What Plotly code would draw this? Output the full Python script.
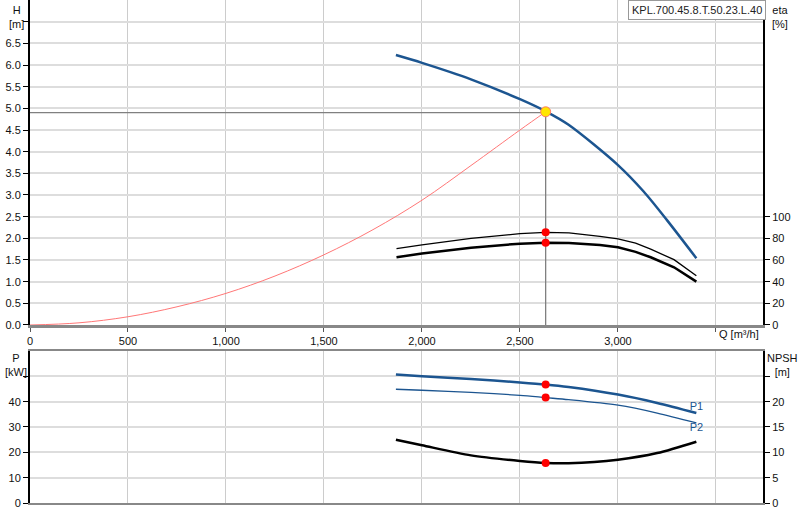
import plotly.graph_objects as go

# ---- data ----
q_pump = [1867, 2000, 2250, 2500, 2631, 2748, 3000, 3131, 3250, 3400]
h_pump = [6.23, 6.05, 5.67, 5.21, 4.93, 4.62, 3.69, 3.08, 2.42, 1.54]

q_eta = [1870, 2000, 2250, 2500, 2631, 2750, 2908, 3000, 3090, 3167, 3286, 3400]
eta_upper = [70.5, 74.0, 80.0, 84.3, 85.5, 85.0, 81.8, 79.5, 75.5, 70.0, 60.3, 45.5]
eta_lower = [62.5, 66.0, 71.4, 75.1, 76.0, 75.6, 73.8, 71.7, 67.5, 62.5, 53.3, 40.0]

q_sys = [0, 250, 500, 750, 1000, 1250, 1500, 1750, 2000, 2250, 2500, 2631]
h_sys = [0, 0.05, 0.19, 0.42, 0.73, 1.13, 1.62, 2.20, 2.88, 3.68, 4.50, 4.92]

q_pow = [1867, 2000, 2250, 2500, 2631, 2748, 3000, 3200, 3400]
p1 = [50.7, 50.0, 48.9, 47.6, 46.8, 45.8, 42.8, 39.5, 35.5]
p2 = [44.9, 44.5, 43.7, 42.5, 41.6, 40.8, 38.6, 35.5, 31.6]
npsh = [12.5, 11.4, 9.4, 8.3, 7.9, 7.85, 8.55, 9.85, 12.1]

duty_q = 2631
duty_h = 4.92
duty_hline = 4.9
duty_eta_upper = 85.5
duty_eta_lower = 76.0
duty_p1 = 46.8
duty_p2 = 41.6
duty_npsh = 7.9

x_ticks = [0, 500, 1000, 1500, 2000, 2500, 3000, 3500]
x_labels = ["0", "500", "1,000", "1,500", "2,000", "2,500", "3,000", ""]
h_ticks = [0, 0.5, 1, 1.5, 2, 2.5, 3, 3.5, 4, 4.5, 5, 5.5, 6, 6.5, 7]
h_labels = ["0.0", "0.5", "1.0", "1.5", "2.0", "2.5", "3.0", "3.5", "4.0", "4.5",
            "5.0", "5.5", "6.0", "6.5", ""]
eta_ticks = [0, 20, 40, 60, 80, 100]
p_ticks = [0, 10, 20, 30, 40, 50]
p_labels = ["0", "10", "20", "30", "40", ""]
npsh_ticks = [0, 5, 10, 15, 20, 25]
npsh_labels = ["0", "5", "10", "15", "20", ""]

title_text = "KPL.700.45.8.T.50.23.L.40"

BLUE = "#1C5590"
FONT = "Liberation Sans, Arial, sans-serif"

fig = go.Figure()

# duty guide lines (drawn first so that curves and markers sit on top)
fig.add_trace(go.Scatter(x=[0, duty_q, duty_q], y=[duty_hline, duty_hline, 0], mode="lines",
                         line=dict(color="#808080", width=1.3), xaxis="x", yaxis="y", hoverinfo="skip"))

fig.add_trace(go.Scatter(x=q_sys, y=h_sys, mode="lines", line=dict(color="#FF7777", width=1, shape="spline"),
                         xaxis="x", yaxis="y", hoverinfo="skip"))
fig.add_trace(go.Scatter(x=q_pump, y=h_pump, mode="lines", line=dict(color=BLUE, width=2.5, shape="spline", smoothing=0.8),
                         xaxis="x", yaxis="y"))
fig.add_trace(go.Scatter(x=q_eta, y=eta_upper, mode="lines", line=dict(color="black", width=1.3),
                         xaxis="x", yaxis="y2"))
fig.add_trace(go.Scatter(x=q_eta, y=eta_lower, mode="lines", line=dict(color="black", width=2.5),
                         xaxis="x", yaxis="y2"))
fig.add_trace(go.Scatter(x=[duty_q, duty_q], y=[duty_eta_upper, duty_eta_lower], mode="markers",
                         marker=dict(color="#FF0000", size=8), xaxis="x", yaxis="y2"))
fig.add_trace(go.Scatter(x=[duty_q], y=[duty_h], mode="markers",
                         marker=dict(color="#FFE600", size=10, line=dict(color="#FF7766", width=1)),
                         xaxis="x", yaxis="y"))

fig.add_trace(go.Scatter(x=q_pow, y=p1, mode="lines", line=dict(color=BLUE, width=2.5, shape="spline", smoothing=0.8),
                         xaxis="x2", yaxis="y3"))
fig.add_trace(go.Scatter(x=q_pow, y=p2, mode="lines", line=dict(color=BLUE, width=1.3, shape="spline", smoothing=0.8),
                         xaxis="x2", yaxis="y3"))
fig.add_trace(go.Scatter(x=q_pow, y=npsh, mode="lines", line=dict(color="black", width=2.5, shape="spline", smoothing=0.8),
                         xaxis="x2", yaxis="y4"))
fig.add_trace(go.Scatter(x=[duty_q, duty_q], y=[duty_p1, duty_p2], mode="markers",
                         marker=dict(color="#FF0000", size=8), xaxis="x2", yaxis="y3"))
fig.add_trace(go.Scatter(x=[duty_q], y=[duty_npsh], mode="markers",
                         marker=dict(color="#FF0000", size=8), xaxis="x2", yaxis="y4"))

fig.add_trace(go.Scatter(x=[q_pow[-1], q_pow[-1]], y=[p1[-1], p2[-1]], mode="text",
                         text=["P1", "P2"], textposition=["top center", "bottom center"],
                         textfont=dict(color=BLUE, size=11, family=FONT), xaxis="x2", yaxis="y3"))

XR = [0, 3740]
axis_font = dict(family=FONT, size=11, color="#111111")

fig.update_layout(
    width=800, height=520,
    margin=dict(l=30, r=37, t=0, b=17, autoexpand=False),
    paper_bgcolor="white", plot_bgcolor="white",
    showlegend=False,
    font=axis_font,
    xaxis=dict(domain=[0, 1], range=XR, tickvals=x_ticks, ticktext=x_labels,
               showgrid=True, gridcolor="#CCCCCC", gridwidth=1,
               showline=True, linecolor="#888888", linewidth=3, mirror=False,
               ticks="outside", ticklen=4, tickcolor="#555555", anchor="y", zeroline=False,
               tickfont=axis_font, automargin=False),
    yaxis=dict(domain=[0.3539, 1], range=[0, 7.5], tickvals=h_ticks, ticktext=h_labels,
               showgrid=True, gridcolor="#DDDDDD", gridwidth=2,
               showline=True, linecolor="black", linewidth=2,
               ticks="outside", ticklen=5, tickcolor="black", zeroline=False,
               tickfont=axis_font, anchor="x", automargin=False),
    yaxis2=dict(overlaying="y", side="right", range=[0, 300], tickvals=eta_ticks,
                showgrid=False, showline=True, linecolor="black", linewidth=2,
                ticks="outside", ticklen=5, tickcolor="black", zeroline=False,
                tickfont=axis_font, anchor="x", automargin=False),
    xaxis2=dict(domain=[0, 1], range=XR, tickvals=x_ticks, showticklabels=False,
                showgrid=True, gridcolor="#CCCCCC", gridwidth=1,
                showline=True, linecolor="#888888", linewidth=2, mirror=True,
                ticks="", anchor="y3", zeroline=False, automargin=False),
    yaxis3=dict(domain=[0, 0.3022], range=[0, 60], tickvals=p_ticks, ticktext=p_labels,
                showgrid=True, gridcolor="#DDDDDD", gridwidth=2,
                showline=True, linecolor="black", linewidth=2,
                ticks="outside", ticklen=5, tickcolor="black", zeroline=False,
                tickfont=axis_font, anchor="x2", automargin=False),
    yaxis4=dict(overlaying="y3", side="right", range=[0, 30], tickvals=npsh_ticks, ticktext=npsh_labels,
                showgrid=False, showline=True, linecolor="black", linewidth=2,
                ticks="outside", ticklen=5, tickcolor="black", zeroline=False,
                tickfont=axis_font, anchor="x2", automargin=False),
)

plot_w = 800 - 30 - 37
plot_h = 520 - 17


def px(xp, yp):
    return (xp - 30) / plot_w, (520 - yp - 17) / plot_h


ann_font = dict(family=FONT, size=11, color="#111111")
items = [
    ("H<br>[m]", 16, 2, "center", "top"),
    ("eta<br>[%]", 770, 2, "left", "top"),
    ("Q [m³/h]", 739, 334, "center", "middle"),
    ("P<br>[kW]", 16, 350, "center", "top"),
    ("NPSH<br>[m]", 782, 350, "center", "top"),
]
for text, xp, yp, xa, ya in items:
    ax, ay = px(xp, yp)
    fig.add_annotation(text=text, x=ax, y=ay, xref="paper", yref="paper", xanchor=xa, yanchor=ya,
                       showarrow=False, font=ann_font, align="center")

tx, ty = px(697, 10)
fig.add_annotation(text=title_text, x=tx, y=ty, xref="paper", yref="paper", xanchor="center", yanchor="middle",
                   bordercolor="#999999", borderwidth=1, bgcolor="white", borderpad=3,
                   font=dict(family=FONT, size=11, color="#222222"), showarrow=False)

fig.write_html("out.html", config={"displayModeBar": False},
               post_script="document.body.style.margin='0px';")
